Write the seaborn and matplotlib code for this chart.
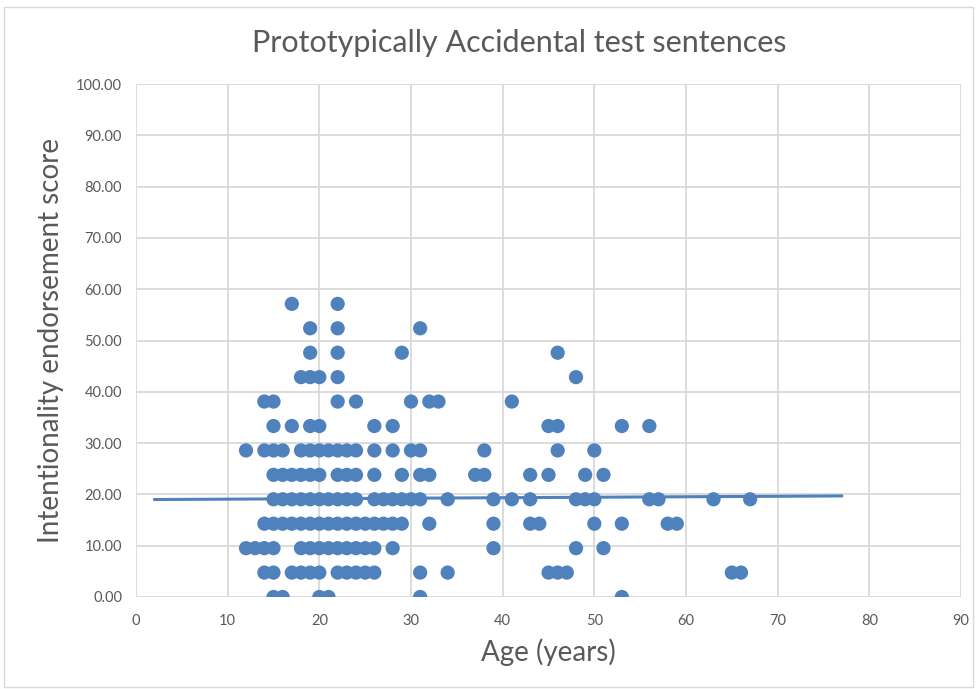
import matplotlib
matplotlib.use("Agg")
import matplotlib.pyplot as plt
import numpy as np
import pandas as pd
import seaborn as sns
from matplotlib.patches import Rectangle

# ages of respondents at each endorsement score level
score_levels = [0.00, 4.76, 9.52, 14.29, 19.05, 23.81, 28.57, 33.33, 38.10, 42.86, 47.62, 52.38, 57.14]
ages_0_00 = [15, 16, 20, 21, 31, 53]
ages_4_76 = [14, 15, 17, 18, 19, 20, 22, 23, 24, 25, 26, 31, 34, 45, 46, 47, 65, 66]
ages_9_52 = [12, 13, 14, 15, 18, 19, 20, 21, 22, 23, 24, 25, 26, 28, 39, 48, 51]
ages_14_29 = [14, 15, 16, 17, 18, 19, 20, 21, 22, 23, 24, 25, 26, 27, 28, 29, 32, 39, 43, 44, 50, 53, 58, 59]
ages_19_05 = [15, 16, 17, 18, 19, 20, 21, 22, 23, 24, 26, 27, 28, 29, 30, 31, 34, 39, 41, 43, 48, 49, 50, 56, 57, 63, 67]
ages_23_81 = [15, 16, 17, 18, 19, 20, 22, 23, 24, 26, 29, 31, 32, 37, 38, 43, 45, 49, 51]
ages_28_57 = [12, 14, 15, 16, 18, 19, 20, 21, 22, 23, 24, 26, 28, 30, 31, 38, 46, 50]
ages_33_33 = [15, 17, 19, 20, 26, 28, 45, 46, 53, 56]
ages_38_10 = [14, 15, 22, 24, 30, 32, 33, 41]
ages_42_86 = [18, 19, 20, 22, 48]
ages_47_62 = [19, 22, 29, 46]
ages_52_38 = [19, 22, 31]
ages_57_14 = [17, 22]

# linear trendline as shown (end points)
trend_age = [2, 77]
trend_score = [19.0, 19.7]

x_ticks = list(range(0, 100, 10))
y_ticks = list(range(0, 110, 10))

age_groups = [ages_0_00, ages_4_76, ages_9_52, ages_14_29, ages_19_05, ages_23_81, ages_28_57,
              ages_33_33, ages_38_10, ages_42_86, ages_47_62, ages_52_38, ages_57_14]
rows = [(a, s) for s, ages in zip(score_levels, age_groups) for a in ages]
df = pd.DataFrame(rows, columns=["age", "score"])
trend_df = pd.DataFrame({"age": trend_age, "score": trend_score})

blue = "#4F81BD"
text_gray = "#595959"
grid_gray = "#D9D9D9"

sns.set_style("whitegrid", {"grid.color": grid_gray})
plt.rcParams["font.family"] = ["Lato", "DejaVu Sans"]

fig = plt.figure(figsize=(9.76, 6.89), dpi=100)
ax = fig.add_axes([136 / 976, 1 - 597 / 689, 825 / 976, 513 / 689])

sns.lineplot(data=trend_df, x="age", y="score", ax=ax, color=blue, linewidth=2.2, zorder=2)
sns.scatterplot(data=df, x="age", y="score", ax=ax, color=blue, s=105, edgecolor="none", zorder=3)

ax.set_xlim(0, 90)
ax.set_ylim(0, 100)
ax.set_xticks(x_ticks)
ax.set_yticks(y_ticks)
ax.set_yticklabels([f"{v:.2f}" for v in y_ticks])
ax.grid(True, color=grid_gray, linewidth=1.3)
for sp in ax.spines.values():
    sp.set_visible(False)
ax.tick_params(axis="both", length=0, labelsize=10.5, labelcolor=text_gray)
ax.tick_params(axis="y", pad=10)
ax.tick_params(axis="x", pad=12)

ax.set_xlabel("Age (years)", fontsize=20, color=text_gray, labelpad=8)
ax.set_ylabel("Intentionality endorsement score", fontsize=20, color=text_gray, labelpad=9)
fig.text(519 / 976, 1 - 43 / 689, "Prototypically Accidental test sentences",
         ha="center", va="center", fontsize=22, color=text_gray)

fig.patches.append(Rectangle((4 / 976, 2 / 689), 969 / 976, 680 / 689, transform=fig.transFigure,
                             fill=False, edgecolor=grid_gray, linewidth=1))

fig.savefig("out.png", dpi=100)
